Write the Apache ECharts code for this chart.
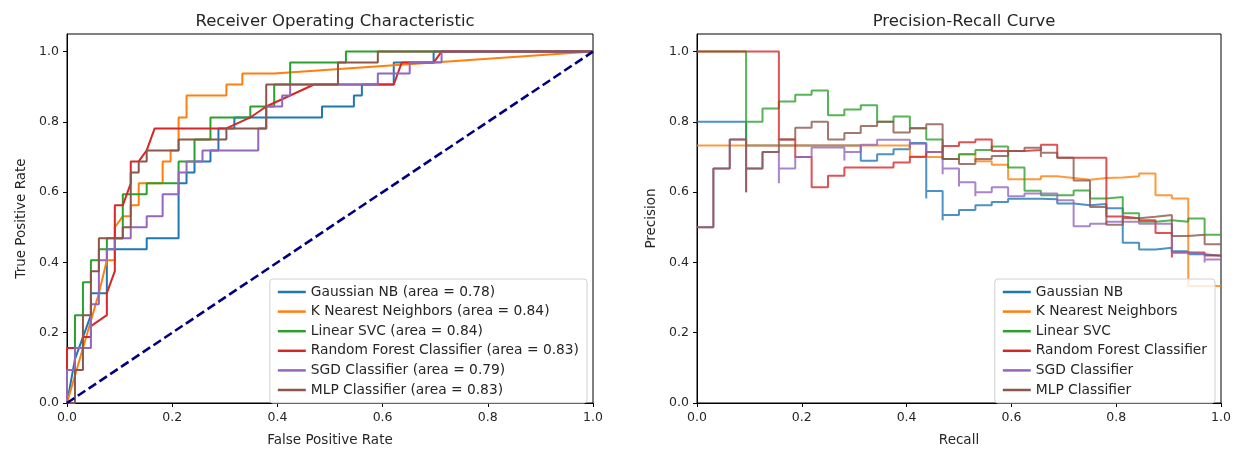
<!DOCTYPE html>
<html>
<head>
<meta charset="utf-8">
<title>ROC / PR</title>
<script src="https://cdn.jsdelivr.net/npm/echarts@6/dist/echarts.min.js"></script>
<style>
  html, body { margin: 0; padding: 0; background: #fff; }
  #main { width: 1236px; height: 452px; }
</style>
</head>
<body>
<div id="main"></div>
<script>
// counts: [false positives, true positives]
var NEG = 66;
var POS = 32;

var rocNames = ['Gaussian NB (area = 0.78)', 'K Nearest Neighbors (area = 0.84)', 'Linear SVC (area = 0.84)',
    'Random Forest Classifier (area = 0.83)', 'SGD Classifier (area = 0.79)', 'MLP Classifier (area = 0.83)'];
var prNames = ['Gaussian NB', 'K Nearest Neighbors', 'Linear SVC', 'Random Forest Classifier', 'SGD Classifier', 'MLP Classifier'];
var colors = ['#1f77b4', '#ff7f0e', '#2ca02c', '#d62728', '#9467bd', '#8c564b'];
var tickValues = [0, 0.2, 0.4, 0.6, 0.8, 1.0];
var chanceLine = [[0, 0], [1, 1]];

var rocGaussian = [[0,0],[1,4],[3,8],[3,10],[5,10],[5,14],[10,14],[10,15],[14,15],[14,20],[15,20],[15,21],[16,21],[16,22],[18,22],[18,23],[19,23],[19,25],[21,25],[21,26],[32,26],[32,27],[36,27],[36,28],[37,28],[37,29],[41,29],[41,31],[46,31],[46,32],[66,32]];
var rocKnn = [[0,0],[4,10],[5,13],[6,13],[6,16],[7,17],[8,17],[8,18],[9,18],[9,20],[12,20],[12,22],[13,22],[13,23],[14,23],[14,26],[15,26],[15,28],[20,28],[20,29],[22,29],[22,30],[26,30],[66,32]];
var rocSvc = [[0,0],[0,3],[1,3],[1,8],[2,8],[2,11],[3,11],[3,13],[4,13],[4,14],[5,14],[5,15],[7,15],[7,19],[10,19],[10,20],[14,20],[14,22],[16,22],[16,24],[18,24],[18,26],[23,26],[23,27],[26,27],[26,29],[28,29],[28,31],[35,31],[35,32],[66,32]];
var rocRf = [[0,0],[0,5],[2,5],[2,6],[3,6],[3,7],[5,8],[5,10],[6,12],[6,18],[7,18],[8,20],[8,22],[9,22],[10,23],[11,25],[20,25],[23,26],[25,27],[28,28],[31,29],[41,29],[42,31],[46,31],[47,32],[66,32]];
var rocSgd = [[0,0],[0,3],[1,3],[1,5],[3,5],[3,9],[4,9],[4,13],[5,13],[5,14],[6,14],[6,15],[8,15],[8,16],[10,16],[10,17],[12,17],[12,19],[14,19],[14,21],[15,21],[15,22],[17,22],[17,23],[24,23],[24,25],[25,25],[25,27],[27,27],[27,28],[28,28],[28,29],[39,29],[39,30],[43,30],[43,31],[47,31],[47,32],[66,32]];
var rocMlp = [[0,0],[1,0],[1,3],[2,3],[2,8],[3,8],[3,12],[4,12],[4,15],[7,15],[7,16],[8,16],[8,21],[9,21],[9,22],[10,22],[10,23],[14,23],[14,24],[20,24],[20,25],[25,25],[25,29],[34,29],[34,31],[39,31],[39,32],[66,32]];

// PR curves: [recall step (of 32), precision]
var prGaussian = [[0,0.8],[3,0.733],[10,0.689],[11,0.708],[12,0.722],[13,0.74],[14,0.582],[14,0.603],[15,0.52],[15,0.535],[16,0.549],[17,0.563],[18,0.572],[19,0.581],[21,0.58],[22,0.568],[23,0.563],[24,0.566],[25,0.554],[26,0.456],[27,0.437],[28,0.442],[29,0.432],[30,0.423],[31,0.419],[32,0.419]];
var prKnn = [[0,0.733],[13,0.70],[15,0.694],[16,0.708],[17,0.688],[18,0.678],[19,0.637],[21,0.645],[22,0.64],[23,0.635],[24,0.64],[25,0.642],[26,0.645],[27,0.653],[28,0.591],[29,0.582],[30,0.333],[32,0.333]];
var prSvc = [[0,1.0],[3,0.75],[3,0.8],[4,0.838],[5,0.858],[6,0.877],[7,0.889],[8,0.819],[9,0.835],[10,0.847],[11,0.80],[12,0.815],[13,0.782],[14,0.75],[15,0.694],[16,0.708],[17,0.72],[18,0.73],[19,0.67],[20,0.604],[21,0.591],[23,0.605],[24,0.582],[25,0.586],[26,0.54],[27,0.516],[28,0.52],[29,0.516],[30,0.525],[31,0.479],[32,0.479]];
var prRf = [[0,1.0],[5,0.75],[6,0.70],[7,0.614],[8,0.647],[9,0.67],[12,0.684],[13,0.701],[14,0.714],[15,0.731],[16,0.742],[17,0.75],[18,0.717],[20,0.72],[21,0.735],[22,0.698],[25,0.531],[26,0.526],[27,0.52],[28,0.484],[29,0.414],[29,0.428],[31,0.42],[32,0.42]];
var prSgd = [[0,0.5],[1,0.667],[2,0.75],[3,0.6],[3,0.667],[4,0.714],[5,0.625],[5,0.667],[6,0.70],[7,0.727],[9,0.69],[9,0.714],[10,0.735],[11,0.749],[13,0.725],[13,0.738],[14,0.714],[15,0.651],[15,0.667],[16,0.616],[16,0.628],[17,0.588],[17,0.60],[18,0.614],[19,0.588],[20,0.596],[22,0.577],[23,0.503],[24,0.51],[25,0.516],[27,0.51],[29,0.428],[30,0.425],[31,0.40],[31,0.408],[32,0.408]];
var prMlp = [[0,0.5],[1,0.667],[2,0.75],[3,0.6],[3,0.667],[4,0.714],[5,0.75],[6,0.783],[7,0.80],[8,0.75],[9,0.768],[10,0.788],[11,0.80],[12,0.77],[13,0.782],[14,0.793],[15,0.694],[16,0.68],[17,0.694],[18,0.703],[19,0.717],[20,0.726],[21,0.70],[21,0.712],[22,0.698],[23,0.633],[24,0.558],[25,0.507],[26,0.526],[27,0.53],[28,0.535],[29,0.475],[30,0.479],[31,0.452],[32,0.452]];

var rocData = [rocGaussian, rocKnn, rocSvc, rocRf, rocSgd, rocMlp];
var prData = [prGaussian, prKnn, prSvc, prRf, prSgd, prMlp];

var FONT = 'DejaVu Sans';
var textColor = '#262626';

function axisX(idx, name) {
    return {
        type: 'value', gridIndex: idx, min: 0, max: 1, interval: 0.2,
        name: name, nameLocation: 'middle', nameGap: 30,
        nameTextStyle: { color: textColor, fontSize: 13.5, fontFamily: FONT },
        axisLine: { show: true, onZero: false, lineStyle: { color: '#000', width: 1 } },
        axisTick: { show: true, length: 4, lineStyle: { color: '#000' } },
        axisLabel: { color: textColor, fontSize: 12.5, fontFamily: FONT, margin: 8,
            formatter: function (v) { return v.toFixed(1); } },
        splitLine: { show: false }
    };
}
function axisY(idx, name) {
    return {
        type: 'value', gridIndex: idx, min: 0, max: 1.05,
        name: name, nameLocation: 'middle', nameGap: 39, nameRotate: 90,
        nameTextStyle: { color: textColor, fontSize: 13.5, fontFamily: FONT },
        axisLine: { show: true, onZero: false, lineStyle: { color: '#000', width: 1 } },
        axisTick: { show: true, length: 4, lineStyle: { color: '#000' }, customValues: tickValues },
        axisLabel: { color: textColor, fontSize: 12.5, fontFamily: FONT, margin: 8, customValues: tickValues,
            formatter: function (v) { return v.toFixed(1); } },
        splitLine: { show: false }
    };
}
function legendBox(names, right) {
    return {
        data: names, orient: 'vertical', right: right, bottom: 49,
        icon: 'rect', itemWidth: 28, itemHeight: 2.5, itemGap: 5.6,
        padding: [6, 8, 6, 8],
        backgroundColor: 'rgba(255,255,255,0.8)', borderColor: '#d0d0d0', borderWidth: 1, borderRadius: 3,
        textStyle: { color: textColor, fontSize: 13.8, fontFamily: FONT, lineHeight: 14 }
    };
}

var series = [];
for (var i = 0; i < rocData.length; i++) {
    series.push({
        name: rocNames[i], type: 'line', xAxisIndex: 0, yAxisIndex: 0,
        data: rocData[i].map(function (p) { return [p[0] / NEG, p[1] / POS]; }),
        symbol: 'none', color: colors[i], lineStyle: { width: 2, color: colors[i] }
    });
}
series.push({
    name: 'chance', type: 'line', xAxisIndex: 0, yAxisIndex: 0, data: chanceLine,
    symbol: 'none', lineStyle: { color: '#000080', width: 2.6, type: [9, 4] }
});
for (var j = 0; j < prData.length; j++) {
    series.push({
        name: prNames[j], type: 'line', xAxisIndex: 1, yAxisIndex: 1, step: 'end',
        data: prData[j].map(function (p) { return [p[0] / POS, p[1]]; }),
        symbol: 'none', color: colors[j], lineStyle: { width: 2, color: colors[j], opacity: 0.8 }
    });
}

var myEcharts = echarts.init(document.getElementById('main'), null, { renderer: 'canvas' });
option = {
    animation: false,
    backgroundColor: '#fff',
    title: [
        { text: 'Receiver Operating Characteristic', left: 330, top: 8, textAlign: 'center',
            textStyle: { color: textColor, fontSize: 16.5, fontWeight: 'normal', fontFamily: FONT } },
        { text: 'Precision-Recall Curve', left: 959, top: 8, textAlign: 'center',
            textStyle: { color: textColor, fontSize: 16.5, fontWeight: 'normal', fontFamily: FONT } }
    ],
    grid: [
        { left: 67, right: 643, top: 34, bottom: 42, show: true, borderColor: '#000', borderWidth: 1, containLabel: false },
        { left: 697, right: 15, top: 34, bottom: 42, show: true, borderColor: '#000', borderWidth: 1, containLabel: false }
    ],
    legend: [legendBox(rocNames, 649), legendBox(prNames, 21)],
    xAxis: [axisX(0, 'False Positive Rate'), axisX(1, 'Recall')],
    yAxis: [axisY(0, 'True Positive Rate'), axisY(1, 'Precision')],
    series: series
};
myEcharts.setOption(option);
</script>
</body>
</html>
